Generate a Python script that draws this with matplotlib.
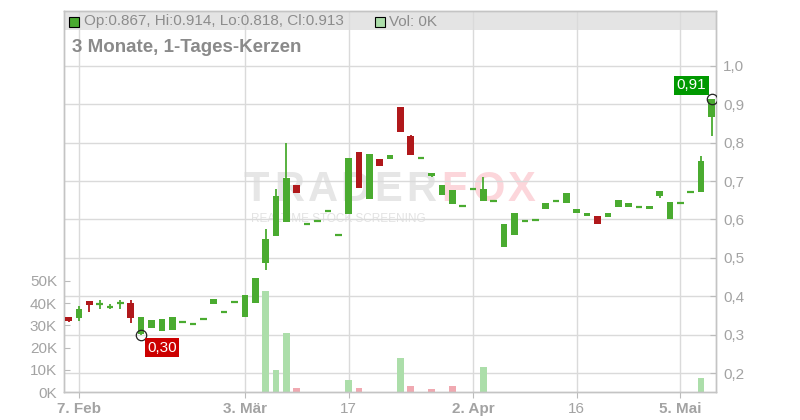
import numpy as np
import matplotlib.pyplot as plt
from matplotlib.patches import Rectangle
from matplotlib.transforms import blended_transform_factory

plt.rcParams['font.family'] = ['Liberation Sans', 'DejaVu Sans']

# Handelstage (Xetra 2025), 6. Feb bis 8. Mai
dates = ['06.02', '07.02', '10.02', '11.02', '12.02', '13.02', '14.02', '17.02', '18.02', '19.02',
         '20.02', '21.02', '24.02', '25.02', '26.02', '27.02', '28.02', '03.03', '04.03', '05.03',
         '06.03', '07.03', '10.03', '11.03', '12.03', '13.03', '14.03', '17.03', '18.03', '19.03',
         '20.03', '21.03', '24.03', '25.03', '26.03', '27.03', '28.03', '31.03', '01.04', '02.04',
         '03.04', '04.04', '07.04', '08.04', '09.04', '10.04', '11.04', '14.04', '15.04', '16.04',
         '17.04', '22.04', '23.04', '24.04', '25.04', '28.04', '29.04', '30.04', '02.05', '05.05',
         '06.05', '07.05', '08.05']

opens = [0.346, 0.344, 0.388, 0.381, 0.373, 0.383, 0.383, 0.302, 0.316, 0.310,
         0.313, 0.333, 0.328, 0.340, 0.381, 0.358, 0.384, 0.347, 0.383, 0.487,
         0.558, 0.594, 0.689, 0.587, 0.595, 0.621, 0.559, 0.615, 0.776, 0.654,
         0.758, 0.758, 0.893, 0.818, 0.759, 0.714, 0.665, 0.641, 0.634, 0.679,
         0.649, 0.647, 0.529, 0.560, 0.597, 0.598, 0.628, 0.647, 0.644, 0.618,
         0.610, 0.609, 0.607, 0.633, 0.633, 0.632, 0.628, 0.662, 0.600, 0.642,
         0.671, 0.672, 0.867]
closes = [0.336, 0.368, 0.378, 0.381, 0.373, 0.383, 0.344, 0.346, 0.338, 0.341,
          0.346, 0.333, 0.328, 0.340, 0.393, 0.358, 0.384, 0.403, 0.448, 0.549,
          0.661, 0.708, 0.670, 0.587, 0.595, 0.621, 0.559, 0.760, 0.683, 0.771,
          0.740, 0.768, 0.829, 0.769, 0.759, 0.721, 0.690, 0.677, 0.634, 0.679,
          0.679, 0.647, 0.588, 0.617, 0.597, 0.598, 0.643, 0.647, 0.669, 0.627,
          0.618, 0.589, 0.617, 0.651, 0.643, 0.632, 0.635, 0.674, 0.646, 0.642,
          0.671, 0.752, 0.913]
highs = [0.346, 0.375, 0.388, 0.391, 0.380, 0.390, 0.391, 0.346, 0.338, 0.341,
         0.346, 0.333, 0.328, 0.340, 0.393, 0.358, 0.384, 0.403, 0.448, 0.575,
         0.679, 0.799, 0.689, 0.587, 0.595, 0.621, 0.559, 0.760, 0.776, 0.771,
         0.758, 0.768, 0.893, 0.821, 0.759, 0.721, 0.690, 0.677, 0.634, 0.679,
         0.710, 0.647, 0.588, 0.617, 0.597, 0.598, 0.643, 0.647, 0.669, 0.627,
         0.618, 0.609, 0.617, 0.651, 0.643, 0.632, 0.635, 0.674, 0.646, 0.642,
         0.671, 0.766, 0.914]
lows = [0.333, 0.336, 0.360, 0.366, 0.366, 0.366, 0.331, 0.300, 0.316, 0.310,
        0.313, 0.333, 0.328, 0.340, 0.381, 0.358, 0.384, 0.347, 0.383, 0.468,
        0.558, 0.594, 0.670, 0.587, 0.595, 0.621, 0.559, 0.615, 0.683, 0.654,
        0.740, 0.758, 0.829, 0.769, 0.759, 0.710, 0.665, 0.641, 0.634, 0.679,
        0.649, 0.647, 0.529, 0.560, 0.597, 0.598, 0.628, 0.647, 0.644, 0.618,
        0.610, 0.589, 0.607, 0.633, 0.633, 0.632, 0.628, 0.657, 0.600, 0.642,
        0.671, 0.672, 0.818]
# Volumen in Tausend Stück
volumes = [0, 0, 0, 0, 0, 0, 0, 0, 0, 0,
           0, 0, 0, 0, 0, 0, 0, 0, 0, 45.5,
           9.9, 26.6, 1.8, 0, 0, 0, 0, 5.4, 1.8, 0,
           0, 0, 15.3, 2.7, 0, 1.4, 0, 2.7, 0, 0,
           11.3, 0, 0, 0, 0, 0, 0, 0, 0, 0,
           0, 0, 0, 0, 0, 0, 0, 0, 0, 0,
           0, 6.3, 0]

tick_idx = [1, 17, 27, 39, 49, 59]
tick_labels = ['7. Feb', '3. Mär', '17', '2. Apr', '16', '5. Mai']
tick_bold = [True, True, False, True, False, True]
price_ticks = [0.2, 0.3, 0.4, 0.5, 0.6, 0.7, 0.8, 0.9, 1.0]
vol_ticks = [0, 10, 20, 30, 40, 50]

green = '#4aab30'
red = '#b0181b'
vol_green = '#acdeaa'
vol_red = '#f0a9b1'
grid_c = '#dadada'
label_c = '#a3a3a3'

fig = plt.figure(figsize=(8, 4.2), dpi=100)
fig.patch.set_facecolor('white')
axv = fig.add_axes([64 / 800, 28 / 420, 652 / 800, 381 / 420])
ax = axv.twinx()

x = np.arange(len(dates))
axv.set_xlim(-0.44, 62.43)
axv.set_ylim(0, 171.6)
ax.set_ylim(0.1505, 1.1433)

# Kopfzeile
hdr_bottom = (392 - 30) / 381
axv.add_patch(Rectangle((0, hdr_bottom), 1, 1 - hdr_bottom, transform=axv.transAxes,
                        facecolor='#e4e4e4', edgecolor='none', zorder=0.5))

# Gitter
for t in tick_idx:
    axv.axvline(t, color=grid_c, lw=1.0, zorder=1)
trans = blended_transform_factory(axv.transAxes, ax.transData)
for p in price_ticks:
    axv.plot([0, 1], [p, p], transform=trans, color=grid_c, lw=1.0, zorder=1)

# Wasserzeichen (Buchstaben einzeln, breit gesetzt)
for k, ch in enumerate('TRADER'):
    axv.text((256.5 + 33 * k - 64) / 652, 0.53, ch, transform=axv.transAxes, fontsize=30,
             fontweight='bold', color='#e6e6e6', ha='center', va='center', zorder=0.8)
for k, ch in enumerate('FOX'):
    axv.text((454 + 34 * k - 64) / 652, 0.53, ch, transform=axv.transAxes, fontsize=30,
             fontweight='bold', color='#fcd6db', ha='center', va='center', zorder=0.8)
axv.text((338 - 64) / 652, 0.454, 'REALTIME STOCK SCREENING', transform=axv.transAxes,
         fontsize=8.5, color='#e3e3e3', ha='center', va='center', zorder=0.8)

# Volumen
vol_colors = [vol_green] + [vol_green if closes[i] >= closes[i - 1] else vol_red
                            for i in range(1, len(closes))]
axv.bar(x, volumes, width=0.64, color=vol_colors, zorder=2)

# Kerzen
for i in range(len(dates)):
    o, c, h, l = opens[i], closes[i], highs[i], lows[i]
    col = green if c >= o else red
    if h > max(o, c) or l < min(o, c):
        ax.vlines(i, l, h, color=col, lw=1.3, zorder=3)
    if abs(c - o) < 1e-6:
        ax.hlines(o, i - 0.32, i + 0.32, color=col, lw=1.6, zorder=4)
    else:
        ax.bar(i, c - o, bottom=o, width=0.64, color=col, zorder=4)

# Markierungen Tief / Schluss
ax.plot(7, lows[7], marker='o', mfc='none', mec='#222222', ms=7.5, mew=0.9, zorder=5)
ax.annotate('0,30', (7, lows[7]), xytext=(14.8, -9.3), textcoords='offset points',
            ha='center', va='center', fontsize=11, color='white', zorder=6,
            bbox=dict(boxstyle='square,pad=0.15', fc='#cc0000', ec='none'))
ax.plot(62, closes[62], marker='o', mfc='none', mec='#222222', ms=7.5, mew=0.9, zorder=5)
ax.annotate('0,91', (62, closes[62]), xytext=(-14.4, 10.1), textcoords='offset points',
            ha='center', va='center', fontsize=11, color='white', zorder=6,
            bbox=dict(boxstyle='square,pad=0.15', fc='#009900', ec='none'))

# Achsen
axv.set_xticks(tick_idx)
axv.set_xticklabels(tick_labels)
for lab, b in zip(axv.get_xticklabels(), tick_bold):
    lab.set_fontweight('bold' if b else 'normal')
axv.tick_params(axis='x', direction='out', length=4, color='#bbbbbb', labelsize=11,
                labelcolor=label_c, pad=3)
axv.set_yticks(vol_ticks)
axv.set_yticklabels([f'{v}K' for v in vol_ticks])
axv.tick_params(axis='y', direction='in', length=4, color='#bbbbbb', labelsize=11,
                labelcolor=label_c, pad=5)
ax.set_yticks(price_ticks)
ax.set_yticklabels([f'{p:.1f}'.replace('.', ',') for p in price_ticks])
ax.tick_params(axis='y', direction='in', length=4, color='#bbbbbb', labelsize=11,
               labelcolor=label_c, pad=5)
for a in (ax, axv):
    for s in a.spines.values():
        s.set_color('#c4c4c4')
        s.set_linewidth(1.0)

# Legende in der Kopfzeile
fig.add_artist(Rectangle((68.5 / 800, 1 - 26.7 / 420), 10 / 800, 10 / 420, transform=fig.transFigure,
                         facecolor=green, edgecolor='black', lw=0.8))
fig.text(84 / 800, 1 - 21.5 / 420, 'Op:0.867, Hi:0.914, Lo:0.818, Cl:0.913',
         fontsize=11, color='#8c8c8c', va='center')
fig.add_artist(Rectangle((374.5 / 800, 1 - 26.7 / 420), 10 / 800, 10 / 420, transform=fig.transFigure,
                         facecolor=vol_green, edgecolor='black', lw=0.8))
fig.text(389 / 800, 1 - 21.5 / 420, 'Vol: 0K', fontsize=11, color='#8c8c8c', va='center')
fig.text(72 / 800, 1 - 47.5 / 420, '3 Monate, 1-Tages-Kerzen', fontsize=13.5,
         fontweight='bold', color='#8a8a8a', va='center')

fig.savefig('out.png', dpi=100)
